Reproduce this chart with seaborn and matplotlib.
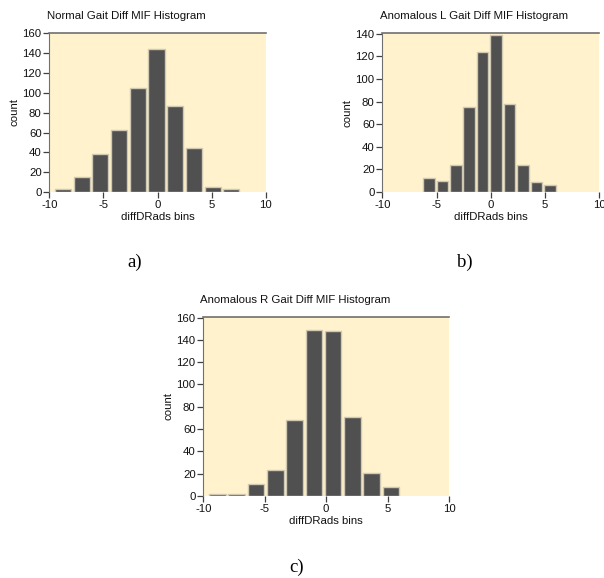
import numpy as np
import pandas as pd
import matplotlib
matplotlib.use("Agg")
import matplotlib.pyplot as plt
import seaborn as sns

# ---- data ----
normal_centers = [-8.74, -7.01, -5.28, -3.55, -1.82, -0.09, 1.64, 3.37, 5.10, 6.83]
normal_counts = [3, 15, 38, 63, 105, 144, 87, 44, 5, 3]
normal_width = 1.73

left_centers = [-5.71, -4.47, -3.23, -1.99, -0.75, 0.49, 1.73, 2.97, 4.21, 5.45]
left_counts = [12, 10, 24, 75, 124, 139, 78, 24, 9, 6]
left_width = 1.24

right_centers = [-8.85, -7.28, -5.71, -4.14, -2.57, -1.00, 0.57, 2.14, 3.71, 5.28]
right_counts = [2, 2, 11, 23, 68, 149, 148, 71, 21, 8]
right_width = 1.57

titles = ["Normal Gait Diff MIF Histogram",
          "Anomalous L Gait Diff MIF Histogram",
          "Anomalous R Gait Diff MIF Histogram"]
letters = ["a)", "b)", "c)"]
xticks = [-10, -5, 0, 5, 10]
yticks_a = [0, 20, 40, 60, 80, 100, 120, 140, 160]
yticks_b = [0, 20, 40, 60, 80, 100, 120, 140]
yticks_c = [0, 20, 40, 60, 80, 100, 120, 140, 160]

sns.set_style("white")
plt.rcParams['font.family'] = ['Liberation Sans', 'DejaVu Sans']

W, H = 604, 578
fig = plt.figure(figsize=(W / 100, H / 100), dpi=100)

def ax_rect(l, t, r, b):
    return [l / W, 1 - b / H, (r - l) / W, (b - t) / H]

bg = "#fff2cc"
bar_col = "#505050"
edge_col = "#cfc8b2"
txt = "#111111"
fs = 8.2

specs = [
    (ax_rect(49.3, 32.5, 265.7, 192.3), normal_centers, normal_counts, normal_width, yticks_a, 161, titles[0]),
    (ax_rect(382.3, 33.0, 599.3, 192.3), left_centers, left_counts, left_width, yticks_b, 140.8, titles[1]),
    (ax_rect(203.3, 316.5, 449.0, 496.3), right_centers, right_counts, right_width, yticks_c, 161, titles[2]),
]

for rect, centers, counts, w, yt, ytop, title in specs:
    ax = fig.add_axes(rect)
    ax.set_facecolor(bg)
    c = np.asarray(centers)
    df = pd.DataFrame({"x": c, "n": counts})
    sns.histplot(data=df, x="x", weights="n", bins=len(c),
                 binrange=(float(c[0] - w / 2), float(c[-1] + w / 2)), shrink=0.86,
                 color=bar_col, edgecolor=edge_col, linewidth=1.0, alpha=1.0, ax=ax)
    ax.set_xlim(-10, 10)
    ax.set_ylim(-0.3, ytop)
    ax.set_xticks(xticks)
    ax.set_xticklabels([str(v) for v in xticks])
    ax.set_yticks(yt)
    for s in ["right", "bottom"]:
        ax.spines[s].set_visible(False)
    ax.spines["top"].set_color("#707070")
    ax.spines["top"].set_linewidth(1.2)
    ax.spines["left"].set_color("#707070")
    ax.spines["left"].set_linewidth(0.8)
    ax.tick_params(axis="both", which="both", direction="out", length=4, width=0.9,
                   bottom=True, left=True, top=False, right=False,
                   color="#404040", labelsize=fs, labelcolor=txt, pad=1.5)
    ax.set_xlabel("diffDRads bins", fontsize=fs, color=txt, labelpad=1.5)
    ax.set_ylabel("count", fontsize=fs, color=txt, labelpad=2)
    ax.set_title(title, fontsize=fs, color=txt, loc="left", x=-0.012, pad=10)

letter_pos = [(135, 262), (465, 262), (297, 567)]
for (x, y), s in zip(letter_pos, letters):
    fig.text(x / W, 1 - y / H, s, fontsize=13.5, family=["Liberation Serif"],
             ha="center", va="center", color="#000000")

fig.savefig("out.png", dpi=100, facecolor="white")
